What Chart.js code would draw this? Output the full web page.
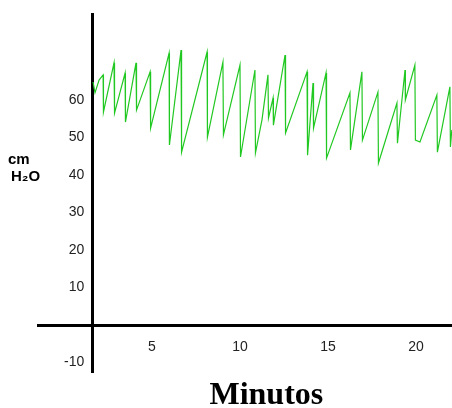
<!DOCTYPE html>
<html>
<head>
<meta charset="utf-8">
<script src="https://cdn.jsdelivr.net/npm/chart.js@4.4.1/dist/chart.umd.min.js"></script>
<style>
  html, body { margin: 0; padding: 0; background: #fff; }
</style>
</head>
<body>
<canvas id="myChart" width="452" height="408"></canvas>
<script>
// tiempo en minutos y presion en cm H2O
const minutos = [1.65, 1.76, 1.99, 2.22, 2.24, 2.84, 2.87, 3.47, 3.49, 4.09, 4.12, 4.89, 4.92,
  5.97, 5.99, 6.65, 6.68, 8.13, 8.15, 9.03, 9.06, 10.0, 10.03, 10.85, 10.88, 11.25, 11.59, 11.62,
  11.88, 11.90, 12.56, 12.59, 13.81, 13.84, 14.15, 14.18, 14.89, 14.92, 16.25, 16.28, 16.93, 16.96,
  17.84, 17.87, 18.92, 18.95, 19.38, 19.40, 19.94, 19.97, 20.23, 21.19, 21.22, 21.93, 21.96, 22.04];
const presion = [64.8, 61.9, 65.3, 66.7, 56.8, 69.9, 56.5, 67.2, 54.1, 69.9, 57.3, 67.5, 52.5,
  72.5, 48.0, 73.3, 46.1, 72.8, 50.1, 70.1, 50.7, 69.3, 44.8, 68.0, 45.9, 54.7, 66.7, 55.2,
  60.5, 53.3, 72.0, 51.2, 67.5, 45.3, 64.5, 52.5, 67.2, 44.5, 61.9, 46.7, 67.5, 49.3,
  62.1, 43.2, 59.2, 48.5, 68.0, 60.0, 69.3, 49.3, 48.8, 61.3, 46.1, 63.5, 47.5, 52.0];

const xTicks = [5, 10, 15, 20];
const yTicks = [-10, 10, 20, 30, 40, 50, 60];

// textos de los ejes
const rotulos = {
  id: 'rotulos',
  afterDraw: (chart) => {
    const ctx = chart.ctx;
    const x = chart.scales.x;
    const y = chart.scales.y;
    ctx.save();
    ctx.fillStyle = '#000';
    ctx.textAlign = 'left';
    ctx.textBaseline = 'middle';
    ctx.font = 'bold 15px "Liberation Sans", Arial, sans-serif';
    ctx.fillText('cm', chart.chartArea.left - 30, y.getPixelForValue(44));
    ctx.fillText('H₂O', chart.chartArea.left - 27, y.getPixelForValue(39.5));
    ctx.font = 'bold 32px "Liberation Serif", "Times New Roman", serif';
    ctx.textAlign = 'center';
    ctx.textBaseline = 'alphabetic';
    ctx.fillText('Minutos', x.getPixelForValue(11.5), y.getPixelForValue(-21));
    ctx.restore();
  }
};

const ctx = document.getElementById('myChart');

const dataset = {
  datasets: [{
    data: minutos.map((m, i) => ({ x: m, y: presion[i] })),
    borderColor: '#22c822',
    borderWidth: 1.2,
    pointRadius: 0,
    fill: false,
    tension: 0
  }]
};

const config = {
  type: 'line',
  data: dataset,
  plugins: [rotulos],
  options: {
    responsive: false,
    animation: false,
    layout: { padding: { left: 38, right: 0, top: 14, bottom: 36 } },
    plugins: { legend: { display: false }, tooltip: { enabled: false } },
    scales: {
      x: {
        type: 'linear',
        min: -1.48,
        max: 22.05,
        position: { y: 0 },
        afterBuildTicks: (s) => { s.ticks = xTicks.map(v => ({ value: v })); },
        grid: { display: false },
        border: { display: true, color: '#000', width: 3 },
        ticks: { color: '#222', padding: 6, font: { family: '"Liberation Sans", Arial', size: 14 } }
      },
      y: {
        type: 'linear',
        min: -12.53,
        max: 82.93,
        position: { x: 1.59 },
        afterBuildTicks: (s) => { s.ticks = yTicks.map(v => ({ value: v })); },
        grid: { display: false },
        border: { display: true, color: '#000', width: 3 },
        ticks: {
          color: '#222',
          font: { family: '"Liberation Sans", Arial', size: 14 },
          callback: (v) => v + '  ' /* separa la etiqueta del eje */
        }
      }
    }
  }
};

const chart = new Chart(ctx, config);
</script>
</body>
</html>
